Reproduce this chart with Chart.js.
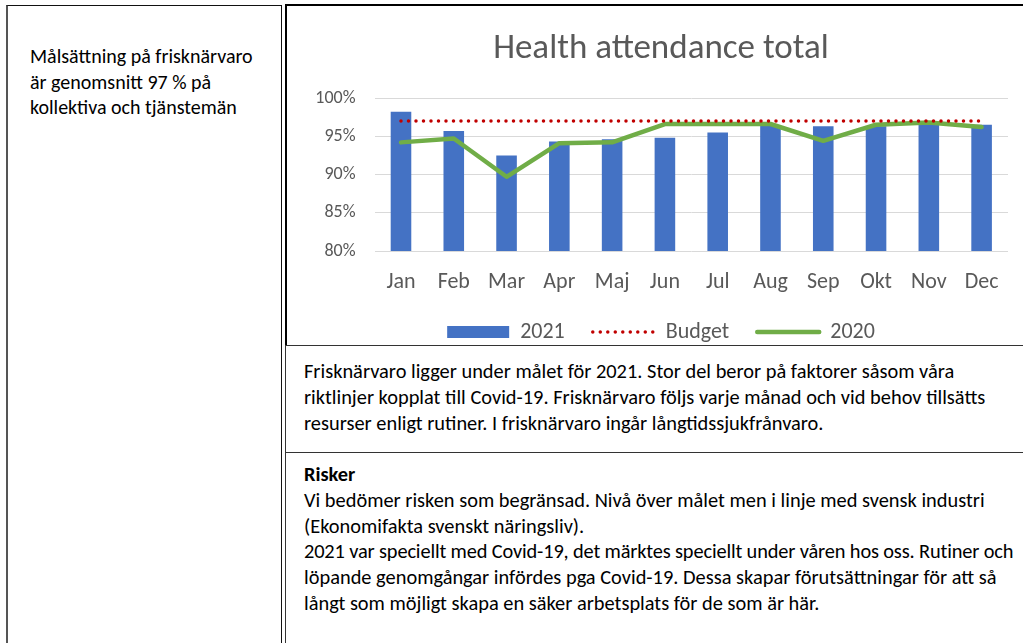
<!DOCTYPE html>
<html>
<head>
<meta charset="utf-8">
<script src="https://cdn.jsdelivr.net/npm/chart.js@4/dist/chart.umd.min.js"></script>
<style>
  html, body { margin: 0; padding: 0; background: #fff; }
  body { width: 1023px; height: 643px; position: relative; overflow: hidden; font-family: Carlito, Lato, sans-serif; color: #000; }
  .box { position: absolute; box-sizing: border-box; }
  #leftBox { left: 6px; top: 5px; width: 276px; height: 700px; border: 1px solid #111; border-left: 2px solid #555; }
  #leftText { position: absolute; left: 30px; top: 44px; font-size: 20px; line-height: 25.5px; }
  #chartBox { left: 285px; top: 4px; width: 760px; height: 343px; border-top: 2px solid #000; border-left: 2px solid #000; }
  #chartWrap { position: absolute; left: 288px; top: 7px; width: 760px; height: 346px; }
  #txt1 { left: 285px; top: 345px; width: 760px; height: 108px; border: 1px solid #333; background: #fff; }
  #txt2 { left: 285px; top: 452px; width: 760px; height: 220px; border: 1px solid #333; background: #fff; }
  .para { position: absolute; left: 18px; font-size: 20.4px; line-height: 26px; white-space: nowrap; }
  .tight { letter-spacing: -0.15px; }
</style>
</head>
<body>
<div class="box" id="leftBox"></div>
<div id="leftText">Målsättning på frisknärvaro<br>är genomsnitt 97 % på<br>kollektiva och tjänstemän</div>
<div class="box" id="chartBox"></div>
<div id="chartWrap"><canvas id="attendanceChart"></canvas></div>
<div class="box" id="txt1">
  <div class="para" style="top:12px;">Frisknärvaro ligger under målet för 2021. Stor del beror på faktorer såsom våra<br>riktlinjer kopplat till Covid-19. Frisknärvaro följs varje månad och vid behov tillsätts<br>resurser enligt rutiner. I frisknärvaro ingår långtidssjukfrånvaro.</div>
</div>
<div class="box" id="txt2">
  <div class="para" style="top:9px; line-height:25.8px;"><b>Risker</b><br>Vi bedömer risken som begränsad. Nivå över målet men i linje med svensk industri<br>(Ekonomifakta svenskt näringsliv).<br><span class="tight">2021 var speciellt med Covid-19, det märktes speciellt under våren hos oss. Rutiner och</span><br>löpande genomgångar infördes pga Covid-19. Dessa skapar förutsättningar för att så<br>långt som möjligt skapa en säker arbetsplats för de som är här.</div>
</div>

<script>
const months = ['Jan', 'Feb', 'Mar', 'Apr', 'Maj', 'Jun', 'Jul', 'Aug', 'Sep', 'Okt', 'Nov', 'Dec'];
const values2021 = [98.2, 95.7, 92.5, 94.3, 94.6, 94.8, 95.5, 96.4, 96.3, 96.3, 96.5, 96.5];
const budget = [97, 97, 97, 97, 97, 97, 97, 97, 97, 97, 97, 97];
const values2020 = [94.2, 94.7, 89.7, 94.1, 94.2, 96.6, 96.6, 96.6, 94.4, 96.5, 96.8, 96.2];

const grey = '#595959';
const fontFam = 'Carlito, Lato, sans-serif';

const ctx = document.getElementById('attendanceChart');

// legend: line samples need the dataset dash/width, not the point's
const buildLegend = (chart) => {
    const items = Chart.defaults.plugins.legend.labels.generateLabels(chart);
    items.forEach((item) => {
        const ds = chart.data.datasets[item.datasetIndex];
        if (ds.type === 'line') {
            item.strokeStyle = ds.borderColor;
            item.lineWidth = ds.borderWidth;
            item.lineDash = ds.borderDash || [];
            item.lineCap = 'round';
        }
    });
    return items.sort((a, b) => a.datasetIndex - b.datasetIndex);
};

chart1 = new Chart(ctx, {
    type: 'bar',
    data: {
        labels: months,
        datasets: [{
            label: '2021',
            data: values2021,
            backgroundColor: '#4472C4',
            borderWidth: 0,
            barPercentage: 0.39,
            categoryPercentage: 1,
            pointStyle: 'rect',
            order: 3
        }, {
            type: 'line',
            label: 'Budget',
            data: budget,
            borderColor: '#C00000',
            backgroundColor: '#C00000',
            borderWidth: 3.5,
            borderDash: [0, 7.5],
            borderCapStyle: 'round',
            pointRadius: 0,
            pointStyle: 'line',
            order: 1
        }, {
            type: 'line',
            label: '2020',
            data: values2020,
            borderColor: '#70AD47',
            backgroundColor: '#70AD47',
            borderWidth: 4.5,
            borderCapStyle: 'round',
            borderJoinStyle: 'round',
            pointRadius: 0,
            pointStyle: 'line',
            order: 2
        }]
    },
    options: {
        responsive: true,
        maintainAspectRatio: false,
        animation: false,
        layout: { padding: { left: 26, right: 40, top: 0, bottom: 0 } },
        plugins: {
            tooltip: { enabled: false },
            title: {
                display: true,
                text: 'Health attendance total',
                color: grey,
                font: { family: fontFam, size: 35, weight: 'normal' },
                padding: { top: 21, bottom: 28 }
            },
            legend: {
                position: 'bottom',
                labels: {
                    usePointStyle: true,
                    pointStyleWidth: 62,
                    boxWidth: 62,
                    boxHeight: 12,
                    color: grey,
                    padding: 28,
                    font: { family: fontFam, size: 22 },
                    generateLabels: buildLegend
                }
            }
        },
        scales: {
            x: {
                grid: { display: false, drawTicks: false },
                border: { display: false },
                ticks: { color: grey, padding: 18, font: { family: fontFam, size: 22 } },
                afterFit: (scale) => { scale.height = 42; }
            },
            y: {
                min: 80,
                max: 100,
                grid: { color: '#D9D9D9', lineWidth: 1, drawTicks: false },
                border: { display: false },
                ticks: {
                    stepSize: 5,
                    color: grey,
                    padding: 19,
                    font: { family: fontFam, size: 18 },
                    callback: (v) => v + '%'
                },
                afterFit: (scale) => { scale.width = 60.6; }
            }
        }
    }
});
</script>
</body>
</html>
